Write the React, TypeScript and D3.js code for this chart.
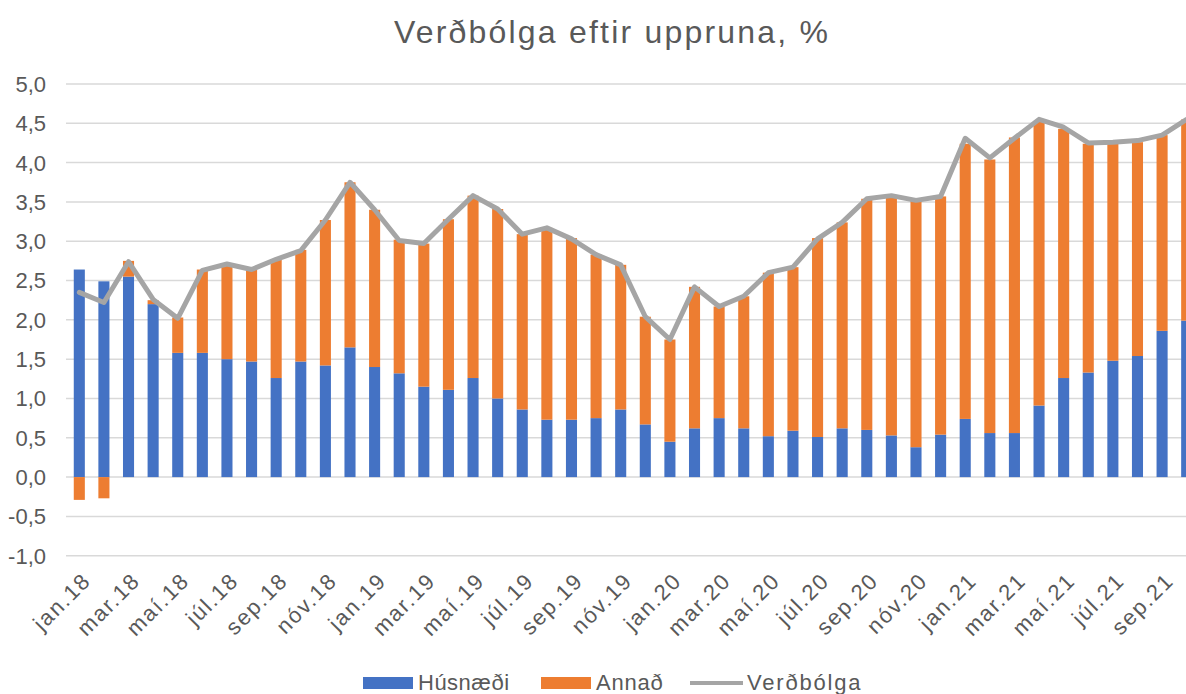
import * as d3 from "d3";

const width = 1186;
const height = 694;
const margin = { top: 84, left: 67, right: -13, bottom: 217 };

const months = [
  "jan.18", "feb.18", "mar.18", "apr.18", "maí.18", "jún.18", "júl.18", "ágú.18", "sep.18", "okt.18", "nóv.18", "des.18",
  "jan.19", "feb.19", "mar.19", "apr.19", "maí.19", "jún.19", "júl.19", "ágú.19", "sep.19", "okt.19", "nóv.19", "des.19",
  "jan.20", "feb.20", "mar.20", "apr.20", "maí.20", "jún.20", "júl.20", "ágú.20", "sep.20", "okt.20", "nóv.20", "des.20",
  "jan.21", "feb.21", "mar.21", "apr.21", "maí.21", "jún.21", "júl.21", "ágú.21", "sep.21", "okt.21",
];

const husnaedi = [
  2.64, 2.49, 2.55, 2.2, 1.58, 1.58, 1.5, 1.47, 1.26, 1.47, 1.42, 1.65,
  1.4, 1.32, 1.15, 1.11, 1.26, 1.0, 0.86, 0.73, 0.73, 0.75, 0.86, 0.67,
  0.45, 0.62, 0.75, 0.62, 0.52, 0.59, 0.51, 0.62, 0.6, 0.53, 0.38, 0.54,
  0.74, 0.56, 0.56, 0.91, 1.26, 1.33, 1.48, 1.54, 1.86, 1.99,
];

const annad = [
  -0.29, -0.27, 0.2, 0.05, 0.45, 1.06, 1.21, 1.17, 1.51, 1.42, 1.85, 2.1,
  2.0, 1.7, 1.82, 2.17, 2.32, 2.41, 2.23, 2.44, 2.31, 2.08, 1.84, 1.37,
  1.3, 1.8, 1.42, 1.68, 2.08, 2.08, 2.53, 2.62, 2.94, 3.05, 3.14, 3.03,
  3.5, 3.48, 3.76, 3.62, 3.17, 2.91, 2.76, 2.72, 2.49, 2.56,
];

const verdbolga = [
  2.35, 2.22, 2.74, 2.26, 2.02, 2.63, 2.71, 2.64, 2.77, 2.88, 3.27, 3.75,
  3.4, 3.01, 2.97, 3.28, 3.58, 3.41, 3.09, 3.17, 3.03, 2.83, 2.7, 2.04,
  1.75, 2.42, 2.17, 2.3, 2.6, 2.67, 3.03, 3.24, 3.54, 3.58, 3.52, 3.57,
  4.31, 4.06, 4.31, 4.55, 4.45, 4.25, 4.26, 4.28, 4.35, 4.55,
];

const yTicks = [-1, -0.5, 0, 0.5, 1, 1.5, 2, 2.5, 3, 3.5, 4, 4.5, 5];

const series = [
  { key: "husnaedi", name: "Húsnæði", color: "#4472C4" },
  { key: "annad", name: "Annað", color: "#ED7D31" },
];
const lineColor = "#A5A5A5";
const textColor = "#595959";
const font = '"Liberation Sans", Arial, sans-serif';

export default function App() {
  const x = d3
    .scaleBand<string>()
    .domain(months)
    .range([margin.left, width - margin.right])
    .paddingInner(0.55)
    .paddingOuter(0.275);

  const y = d3
    .scaleLinear()
    .domain([-1, 5])
    .range([height - margin.bottom + 78.7, margin.top]);

  const rows = months.map((m, i) => ({ month: m, husnaedi: husnaedi[i], annad: annad[i] }));
  const stacked = d3
    .stack<any>()
    .keys(series.map((s) => s.key))
    .offset(d3.stackOffsetDiverging)(rows);

  const cx = (m: string) => (x(m) ?? 0) + x.bandwidth() / 2;

  const line = d3
    .line<number>()
    .x((_, i) => cx(months[i]))
    .y((d) => y(d));

  const fmt = (v: number) => v.toFixed(1).replace(".", ",");

  return (
    <svg
      width={width}
      height={height}
      style={{ position: "absolute", left: 0, top: 0, background: "#fff" }}
      fontFamily={font}
    >
      <text
        x={612}
        y={43}
        textAnchor="middle"
        fontSize={32}
        letterSpacing={2.2}
        fill={textColor}
      >
        Verðbólga eftir uppruna, %
      </text>

      {yTicks.map((t) => (
        <g key={t}>
          <line
            x1={margin.left - 1}
            x2={width}
            y1={y(t)}
            y2={y(t)}
            stroke="#d9d9d9"
            strokeWidth={1.5}
          />
          <text
            x={46}
            y={y(t)}
            dy="0.36em"
            textAnchor="end"
            fontSize={22}
            fill={textColor}
          >
            {fmt(t)}
          </text>
        </g>
      ))}

      {stacked.map((layer, li) => (
        <g key={layer.key} fill={series[li].color}>
          {layer.map((d, i) => (
            <rect
              key={i}
              x={x(months[i])}
              width={x.bandwidth()}
              y={y(Math.max(d[0], d[1]))}
              height={Math.abs(y(d[0]) - y(d[1]))}
            />
          ))}
        </g>
      ))}

      <path
        d={line(verdbolga) ?? ""}
        fill="none"
        stroke={lineColor}
        strokeWidth={5}
        strokeLinejoin="round"
        strokeLinecap="round"
      />

      {months.map((m, i) =>
        i % 2 === 0 ? (
          <text
            key={m}
            transform={`translate(${cx(m) + 13}, 582) rotate(-45)`}
            textAnchor="end"
            fontSize={22}
            letterSpacing={1.8}
            fill={textColor}
          >
            {m}
          </text>
        ) : null,
      )}

      <g fontSize={22} fill={textColor}>
        <rect x={363} y={677} width={50} height={12} fill={series[0].color} />
        <text x={418} y={690} letterSpacing={0.5}>{series[0].name}</text>
        <rect x={541} y={677} width={50} height={12} fill={series[1].color} />
        <text x={596} y={690} letterSpacing={0.8}>{series[1].name}</text>
        <line x1={690} x2={743} y1={683} y2={683} stroke={lineColor} strokeWidth={4} />
        <text x={747} y={690} letterSpacing={1.8}>Verðbólga</text>
      </g>
    </svg>
  );
}
